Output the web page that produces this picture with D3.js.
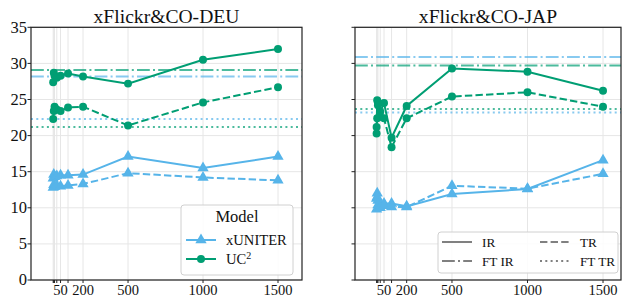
<!DOCTYPE html>
<html><head><meta charset="utf-8">
<script src="https://cdn.jsdelivr.net/npm/d3@7"></script>
<style>body{margin:0;background:#fff}</style>
</head><body><svg id="c" width="623" height="299"></svg>
<script>
const shots = [1, 5, 10, 25, 50, 100, 200, 500, 1000, 1500];
const xTickLabels = [50, 200, 500, 1000, 1500];
const yTicks = [0, 5, 10, 15, 20, 25, 30, 35];
const panelTitles = ["xFlickr&CO-DEU", "xFlickr&CO-JAP"];
const modelNames = ["xUNITER", "UC2"];
const modelColors = ["#56B4E9", "#009E73"];

// DEU
const deuXuniterIR = [14.1, 14.6, 14.3, 14.4, 14.5, 14.5, 14.6, 17.1, 15.5, 17.1];
const deuXuniterTR = [12.8, 13.2, 12.9, 13.1, 13.0, 13.1, 13.3, 14.8, 14.2, 13.8];
const deuUc2IR = [27.4, 28.7, 28.3, 28.0, 28.3, 28.6, 28.2, 27.2, 30.5, 32.0];
const deuUc2TR = [22.3, 23.4, 24.0, 23.6, 23.4, 23.9, 24.0, 21.4, 24.6, 26.7];
const deuFtIR = [28.2, 29.1];   // xUNITER, UC2
const deuFtTR = [22.3, 21.2];
// JAP
const japXuniterIR = [11.3, 12.0, 11.0, 10.5, 10.6, 10.6, 10.2, 11.9, 12.6, 16.6];
const japXuniterTR = [9.8, 11.5, 10.4, 10.0, 10.3, 10.1, 10.1, 13.05, 12.65, 14.7];
const japUc2IR = [21.2, 24.9, 24.5, 23.3, 24.5, 19.7, 24.1, 29.3, 28.85, 26.2];
const japUc2TR = [20.3, 22.4, 24.2, 22.6, 22.4, 18.4, 22.4, 25.4, 26.0, 24.0];
const japFtIR = [30.9, 29.7];
const japFtTR = [23.2, 23.7];

const FONT = "'Liberation Serif', 'Times New Roman', serif";
const panels = [
  {title: panelTitles[0], x0: 31, x1: 302, dom: [-147, 1660],
   series: [[deuXuniterIR, deuXuniterTR], [deuUc2IR, deuUc2TR]], ftIR: deuFtIR, ftTR: deuFtTR, yLabels: true},
  {title: panelTitles[1], x0: 355, x1: 621, dom: [-142, 1619],
   series: [[japXuniterIR, japXuniterTR], [japUc2IR, japUc2TR]], ftIR: japFtIR, ftTR: japFtTR, yLabels: false}
];

const svg = d3.select("#c").style("font-family", FONT);
const yTop = 27.3, yBot = 280;
const y = d3.scaleLinear().domain([0, 35]).range([yBot, yTop]);
const dashes = {solid: null, dashed: "7.4,3.2", dashdot: "12.8,3.2,2,3.2", dotted: "2,3.3"};

panels.forEach((p, pi) => {
  const x = d3.scaleLinear().domain(p.dom).range([p.x0, p.x1]);
  const g = svg.append("g");
  // grid
  g.selectAll(".hg").data(yTicks).join("line")
    .attr("x1", p.x0).attr("x2", p.x1).attr("y1", d => y(d)).attr("y2", d => y(d))
    .attr("stroke", "#e6e6e6").attr("stroke-width", 1);
  g.selectAll(".vg").data(shots).join("line")
    .attr("x1", d => x(d)).attr("x2", d => x(d)).attr("y1", yTop).attr("y2", yBot)
    .attr("stroke", "#e6e6e6").attr("stroke-width", 1);

  // fine-tuned reference lines
  p.ftIR.forEach((v, mi) => {
    g.append("line").attr("x1", p.x0).attr("x2", p.x1).attr("y1", y(v)).attr("y2", y(v))
      .attr("stroke", modelColors[mi]).attr("stroke-opacity", 0.7).attr("stroke-width", 2)
      .attr("stroke-dasharray", dashes.dashdot);
  });
  p.ftTR.forEach((v, mi) => {
    g.append("line").attr("x1", p.x0).attr("x2", p.x1).attr("y1", y(v)).attr("y2", y(v))
      .attr("stroke", modelColors[mi]).attr("stroke-opacity", 0.7).attr("stroke-width", 2)
      .attr("stroke-dasharray", dashes.dotted);
  });

  // series
  p.series.forEach((pair, mi) => {
    pair.forEach((vals, si) => {
      const pts = shots.map((s, i) => [s, vals[i]]);
      const line = d3.line().x(d => x(d[0])).y(d => y(d[1]));
      g.append("path").attr("d", line(pts)).attr("fill", "none")
        .attr("stroke", modelColors[mi]).attr("stroke-width", 2)
        .attr("stroke-dasharray", si === 0 ? null : dashes.dashed);
      const sym = mi === 0 ? d3.symbolTriangle : d3.symbolCircle;
      const size = mi === 0 ? 55 : 50;
      g.selectAll(null).data(pts).join("path")
        .attr("d", d3.symbol().type(sym).size(size))
        .attr("transform", d => `translate(${x(d[0])},${y(d[1])})`)
        .attr("fill", modelColors[mi]);
    });
  });

  // spines
  g.append("rect").attr("x", p.x0).attr("y", yTop).attr("width", p.x1 - p.x0).attr("height", yBot - yTop)
    .attr("fill", "none").attr("stroke", "#222").attr("stroke-width", 1.2);

  // x ticks
  g.selectAll(".xt").data(shots).join("line")
    .attr("x1", d => x(d)).attr("x2", d => x(d)).attr("y1", yBot).attr("y2", yBot + 3)
    .attr("stroke", "#222").attr("stroke-width", 1);
  g.selectAll(".xl").data(xTickLabels).join("text")
    .style("font-family", FONT)
    .attr("x", d => x(d)).attr("y", 295).attr("text-anchor", "middle")
    .attr("font-size", 14.5).attr("fill", "#111").text(d => d);
  // y ticks
  g.selectAll(".yt").data(yTicks).join("line")
    .attr("x1", p.x0 - 3.5).attr("x2", p.x0).attr("y1", d => y(d)).attr("y2", d => y(d))
    .attr("stroke", "#222").attr("stroke-width", 1);
  if (p.yLabels) {
    g.selectAll(".yl").data(yTicks).join("text")
      .style("font-family", FONT)
      .attr("x", p.x0 - 4).attr("y", d => y(d)).attr("dy", "0.33em").attr("text-anchor", "end")
      .attr("font-size", 16.5).attr("fill", "#111").text(d => d);
  }
  // title
  g.append("text").style("font-family", FONT).attr("x", (p.x0 + p.x1) / 2).attr("y", 22.5).attr("text-anchor", "middle")
    .attr("font-size", 19.6).attr("fill", "#111").text(p.title);
});

// Legend 1: models
{
  const lg = svg.append("g");
  lg.append("rect").attr("x", 181).attr("y", 205).attr("width", 112).attr("height", 70).attr("rx", 3)
    .attr("fill", "#fff").attr("fill-opacity", 0.85).attr("stroke", "#d0d0d0");
  lg.append("text").style("font-family", FONT).attr("x", 237).attr("y", 222).attr("text-anchor", "middle").attr("font-size", 16.5)
    .attr("fill", "#111").text("Model");
  modelNames.forEach((m, i) => {
    const yy = 240 + i * 19;
    lg.append("line").attr("x1", 186).attr("x2", 216).attr("y1", yy).attr("y2", yy)
      .attr("stroke", modelColors[i]).attr("stroke-width", 2);
    lg.append("path").attr("d", d3.symbol().type(i === 0 ? d3.symbolTriangle : d3.symbolCircle).size(i === 0 ? 55 : 50))
      .attr("transform", `translate(201,${yy})`).attr("fill", modelColors[i]);
    const t = lg.append("text").style("font-family", FONT).attr("x", 226).attr("y", yy).attr("dy", "0.35em").attr("font-size", 14.6).attr("fill", "#111");
    if (m === "UC2") {
      t.append("tspan").text("UC");
      t.append("tspan").attr("font-size", 10).attr("dy", "-0.5em").text("2");
    } else t.text(m);
  });
}

// Legend 2: line styles
{
  const styleNames = ["IR", "TR", "FT IR", "FT TR"];
  const styleDash = [dashes.solid, dashes.dashed, dashes.dashdot, dashes.dotted];
  const lg = svg.append("g");
  lg.append("rect").attr("x", 438).attr("y", 232).attr("width", 180).attr("height", 41).attr("rx", 3)
    .attr("fill", "#fff").attr("fill-opacity", 0.85).attr("stroke", "#d0d0d0");
  const pos = [[442, 242], [540, 242], [442, 261], [540, 261]];
  styleNames.forEach((s, i) => {
    const [px, py] = pos[i];
    lg.append("line").attr("x1", px).attr("x2", px + 30).attr("y1", py).attr("y2", py)
      .attr("stroke", "#808080").attr("stroke-width", 2).attr("stroke-dasharray", styleDash[i]);
    lg.append("text").style("font-family", FONT).attr("x", px + 40).attr("y", py).attr("dy", "0.35em").attr("font-size", 13.2)
      .attr("fill", "#111").text(s);
  });
}
</script></body></html>
